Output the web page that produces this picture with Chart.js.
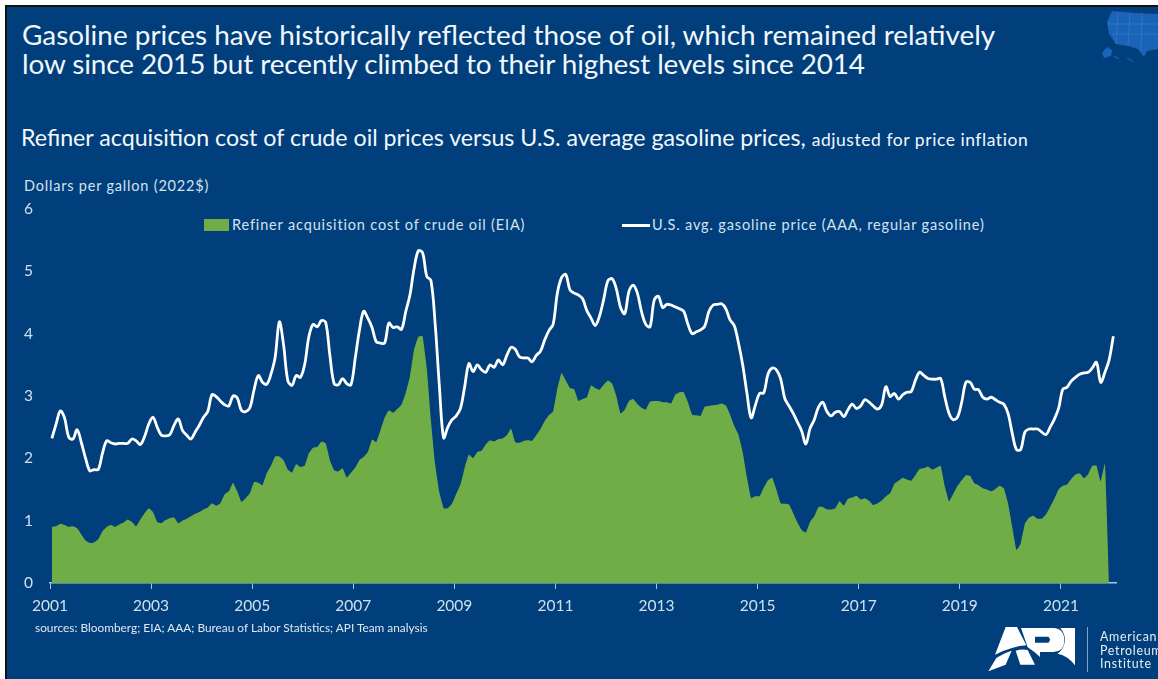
<!DOCTYPE html>
<html>
<head>
<meta charset="utf-8">
<title>Gasoline prices vs crude oil</title>
<script src="https://cdn.jsdelivr.net/npm/chart.js@4"></script>
<style>
  html, body { margin: 0; padding: 0; background: #fff; }
  #page { position: relative; width: 1158px; height: 679px; overflow: hidden; background: #fff; font-family: Lato, sans-serif; filter: blur(0.35px); }
  #panel { position: absolute; left: 5px; top: 5px; right: -5px; bottom: -5px; background: #003f7c; border-left: 2px solid #111; border-top: 2px solid #111; }
  #wrap { position: absolute; left: 0; top: 0; width: 1158px; height: 679px; }
  .t { position: absolute; white-space: nowrap; color: #f2f7fb; }
  .leg { position: absolute; }
</style>
</head>
<body>
<div id="page">
  <div id="panel"></div>

  <svg class="leg" style="left:1100px;top:5px;filter:blur(.7px)" width="58" height="62" viewBox="1100 5 58 62">
    <path d="M1107 22 L1112 11 L1135 13 L1158 14 L1158 49 L1147 51 L1144 57 L1138 49 L1128 46 L1116 44 L1109 34 Z" fill="#1a63b8"/>
    <path d="M1118 12 L1116 44 M1130 13 L1128 46 M1142 13 L1141 51 M1108 24 H1158 M1112 34 H1158" stroke="#3a80cc" stroke-width=".6" fill="none"/>
    <path d="M1102 53 L1107 47 L1112 50 L1111 56 L1104 58 Z" fill="#1a63b8"/>
    <path d="M1114 56 L1119 59 M1127 58 L1134 62" stroke="#12569f" stroke-width="1.6" fill="none"/>
  </svg>

  <div class="t" style="left:22px;top:20px;font-size:27.9px;line-height:29.4px">Gasoline prices have historically reflected those of oil, which remained relatively<br><span style="letter-spacing:-.1px">low since 2015 but recently climbed to their highest levels since 2014</span></div>
  <div class="t" style="left:21px;top:122px;font-size:23.2px;line-height:30px">Refiner acquisition cost of crude oil prices versus U.S. average gasoline prices, <span style="font-size:17.5px;letter-spacing:.55px">adjusted for price inflation</span></div>
  <div class="t" style="left:24px;top:177px;font-size:14.5px;letter-spacing:.8px;color:#d5e2ee">Dollars per gallon (2022$)</div>

  <div class="leg" style="left:204px;top:219px;width:25px;height:12px;background:#70ad47"></div>
  <div class="t" style="left:232px;top:216px;font-size:14.5px;letter-spacing:.85px;color:#d5e2ee">Refiner acquisition cost of crude oil (EIA)</div>
  <div class="leg" style="left:622px;top:224px;width:28px;height:3px;background:#fff"></div>
  <div class="t" style="left:652px;top:216px;font-size:14.5px;letter-spacing:.85px;color:#d5e2ee">U.S. avg. gasoline price (AAA, regular gasoline)</div>

  <div id="wrap"><canvas id="chart" width="1158" height="679"></canvas></div>

  <div class="t" style="left:35px;top:620px;font-size:11.85px;color:#dfe9f2">sources: Bloomberg; EIA; AAA; Bureau of Labor Statistics; API Team analysis</div>

  <svg class="leg" style="left:985px;top:622px" width="95" height="54" viewBox="0 0 285 162">
    <path d="M62 15 L96 15 L124 70 Q85 72 30 98 Z" fill="#fff"/>
    <path d="M10 148 L34 108 Q60 92 80 86 L62 128 Z" fill="#fff"/>
    <path d="M92 86 Q110 80 128 84 L150 128 L106 128 Z" fill="#fff"/>
    <path fill-rule="evenodd" d="M108 18 H205 Q238 20 238 55 Q238 88 205 90 H165 V105 Q150 90 128 76 Z M150 44 V62 H190 Q200 53 190 44 Z" fill="#fff"/>
    <path d="M226 18 H270 V130 Q250 102 218 95 Q238 80 240 55 Q240 35 226 18 Z" fill="#fff"/>
  </svg>
  <div class="leg" style="left:1087px;top:627px;width:1px;height:45px;background:#7fa3c4"></div>
  <div class="t" style="left:1100px;top:630px;font-size:12.4px;line-height:13.6px;letter-spacing:.7px;color:#e6eef5">American<br>Petroleum<br>Institute</div>
</div>

<script>
const firstYear = 2001;
const tickYears = [2001, 2003, 2005, 2007, 2009, 2011, 2013, 2015, 2017, 2019, 2021];
const tickDollars = [0, 1, 2, 3, 4, 5, 6];

// monthly from Jan 2001, dollars per gallon (2022$)
const crudeOilCost = [
  0.90, 0.91, 0.95, 0.93, 0.90, 0.91, 0.88, 0.78, 0.68, 0.64, 0.65, 0.70,
  0.83, 0.90, 0.93, 0.90, 0.94, 0.97, 1.02, 0.98, 0.91, 1.02, 1.12, 1.20,
  1.14, 0.98, 0.96, 1.01, 1.04, 1.05, 0.96, 1.00, 1.03, 1.07, 1.11, 1.14,
  1.18, 1.21, 1.28, 1.24, 1.28, 1.42, 1.47, 1.61, 1.47, 1.30, 1.36, 1.44,
  1.62, 1.61, 1.57, 1.76, 1.88, 2.03, 2.03, 1.97, 1.82, 1.77, 1.91, 1.86,
  1.88, 2.08, 2.17, 2.18, 2.27, 2.24, 1.97, 1.81, 1.79, 1.84, 1.69, 1.77,
  1.85, 1.97, 2.02, 2.10, 2.30, 2.26, 2.45, 2.65, 2.77, 2.73, 2.79, 2.86,
  3.05, 3.31, 3.75, 3.95, 3.96, 3.45, 2.60, 1.90, 1.45, 1.20, 1.20, 1.27,
  1.43, 1.58, 1.85, 2.06, 2.00, 2.10, 2.12, 2.22, 2.29, 2.27, 2.31, 2.32,
  2.37, 2.48, 2.26, 2.25, 2.28, 2.29, 2.28, 2.37, 2.47, 2.60, 2.69, 2.75,
  3.12, 3.37, 3.25, 3.13, 3.11, 2.92, 2.95, 2.98, 3.17, 3.13, 3.10, 3.18,
  3.25, 3.20, 3.00, 2.72, 2.78, 2.92, 2.95, 2.87, 2.81, 2.78, 2.91, 2.92,
  2.92, 2.90, 2.90, 2.88, 3.02, 3.06, 3.06, 2.90, 2.70, 2.69, 2.68, 2.83,
  2.84, 2.85, 2.86, 2.88, 2.85, 2.70, 2.52, 2.38, 2.10, 1.70, 1.36, 1.39,
  1.39, 1.53, 1.65, 1.69, 1.50, 1.28, 1.27, 1.26, 1.12, 0.97, 0.85, 0.81,
  0.98, 1.07, 1.22, 1.22, 1.18, 1.18, 1.20, 1.31, 1.24, 1.35, 1.37, 1.40,
  1.34, 1.36, 1.32, 1.25, 1.28, 1.32, 1.39, 1.44, 1.59, 1.64, 1.69, 1.66,
  1.64, 1.73, 1.83, 1.84, 1.87, 1.82, 1.85, 1.88, 1.55, 1.31, 1.43, 1.56,
  1.65, 1.73, 1.72, 1.60, 1.57, 1.52, 1.50, 1.47, 1.51, 1.56, 1.52, 1.28,
  0.90, 0.53, 0.63, 0.95, 1.05, 1.08, 1.03, 1.03, 1.10, 1.22, 1.35, 1.50,
  1.56, 1.58, 1.67, 1.74, 1.76, 1.68, 1.74, 1.88, 1.88, 1.63, 1.92, 0,
];

const gasolinePrice = [
  2.32, 2.55, 2.76, 2.65, 2.34, 2.31, 2.46, 2.25, 2.00, 1.80, 1.82, 1.82,
  2.08, 2.28, 2.25, 2.23, 2.24, 2.24, 2.24, 2.31, 2.28, 2.22, 2.35, 2.55,
  2.66, 2.50, 2.37, 2.36, 2.38, 2.53, 2.63, 2.45, 2.37, 2.31, 2.42, 2.53,
  2.66, 2.75, 3.02, 2.99, 2.92, 2.86, 2.84, 3.00, 2.97, 2.77, 2.75, 2.81,
  3.10, 3.33, 3.22, 3.19, 3.35, 3.62, 4.19, 3.82, 3.25, 3.17, 3.33, 3.30,
  3.50, 3.95, 4.15, 4.11, 4.21, 4.18, 3.65, 3.20, 3.18, 3.28, 3.20, 3.18,
  3.60, 4.05, 4.36, 4.25, 4.10, 3.87, 3.85, 3.85, 4.17, 4.10, 4.11, 4.07,
  4.35, 4.62, 5.05, 5.33, 5.30, 4.92, 4.85, 4.15, 3.15, 2.33, 2.50, 2.62,
  2.68, 2.80, 3.15, 3.52, 3.39, 3.50, 3.42, 3.38, 3.50, 3.46, 3.58, 3.50,
  3.65, 3.78, 3.75, 3.63, 3.61, 3.61, 3.55, 3.65, 3.72, 3.90, 4.05, 4.15,
  4.65, 4.90, 4.95, 4.70, 4.65, 4.62, 4.56, 4.37, 4.25, 4.13, 4.28, 4.55,
  4.85, 4.88, 4.72, 4.42, 4.32, 4.68, 4.78, 4.65, 4.35, 4.15, 4.11, 4.54,
  4.60, 4.42, 4.47, 4.46, 4.43, 4.40, 4.36, 4.15, 4.00, 4.03, 4.06, 4.12,
  4.36, 4.46, 4.47, 4.48, 4.40, 4.22, 4.13, 3.85, 3.50, 3.05, 2.65, 2.85,
  3.04, 3.05, 3.35, 3.45, 3.42, 3.28, 2.96, 2.84, 2.72, 2.58, 2.44, 2.23,
  2.48, 2.62, 2.82, 2.90, 2.75, 2.68, 2.74, 2.75, 2.67, 2.78, 2.87, 2.80,
  2.84, 2.94, 2.90, 2.84, 2.79, 2.86, 3.15, 2.99, 3.04, 2.95, 3.02, 3.06,
  3.07, 3.25, 3.38, 3.33, 3.28, 3.27, 3.27, 3.28, 2.98, 2.72, 2.62, 2.66,
  2.90, 3.22, 3.22, 3.11, 3.10, 2.98, 2.95, 2.98, 2.94, 2.90, 2.87, 2.72,
  2.40, 2.14, 2.14, 2.42, 2.47, 2.47, 2.47, 2.42, 2.38, 2.50, 2.63, 2.80,
  3.11, 3.14, 3.24, 3.30, 3.35, 3.37, 3.38, 3.45, 3.54, 3.22, 3.38, 3.58,
  3.96,
];

const axisColor = '#a9c8de';
const tickColor = '#cfe0ec';

function toPoints(values) {
  return values.map((v, i) => ({ x: firstYear + (i + 0.45) / 12, y: v }));
}

new Chart(document.getElementById('chart'), {
  type: 'line',
  data: {
    datasets: [
      {
        label: 'U.S. avg. gasoline price (AAA, regular gasoline)',
        data: toPoints(gasolinePrice),
        borderColor: '#ffffff',
        borderWidth: 2.8,
        pointRadius: 0,
        tension: 0.35,
        fill: false,
        order: 1,
      },
      {
        label: 'Refiner acquisition cost of crude oil (EIA)',
        data: toPoints(crudeOilCost),
        backgroundColor: '#70ad47',
        borderWidth: 0,
        pointRadius: 0,
        tension: 0.1,
        fill: 'origin',
        order: 2,
      },
    ],
  },
  options: {
    responsive: false,
    animation: false,
    layout: { padding: { left: 0, top: 209, right: 42, bottom: 36 } },
    plugins: { legend: { display: false }, tooltip: { enabled: false } },
    scales: {
      x: {
        type: 'linear',
        min: firstYear,
        max: 2022.09,
        afterBuildTicks: (scale) => {
          scale.ticks = tickYears.map((v) => ({ value: v }));
        },
        afterFit: (scale) => {
          scale.height = 60;
        },
        border: { color: axisColor, width: 1.5 },
        grid: { drawOnChartArea: false, color: axisColor, tickLength: 6 },
        ticks: {
          color: tickColor,
          font: { family: 'Lato', size: 15.5 },
          maxRotation: 0,
          padding: 8,
          autoSkip: false,
          callback: (v) => String(v),
        },
      },
      y: {
        min: 0,
        max: 6,
        afterBuildTicks: (scale) => {
          scale.ticks = tickDollars.map((v) => ({ value: v }));
        },
        afterFit: (scale) => {
          scale.width = 50;
        },
        border: { display: false },
        grid: { display: false },
        ticks: {
          color: tickColor,
          font: { family: 'Lato', size: 15.5 },
          padding: 9,
        },
      },
    },
  },
});
</script>
</body>
</html>
